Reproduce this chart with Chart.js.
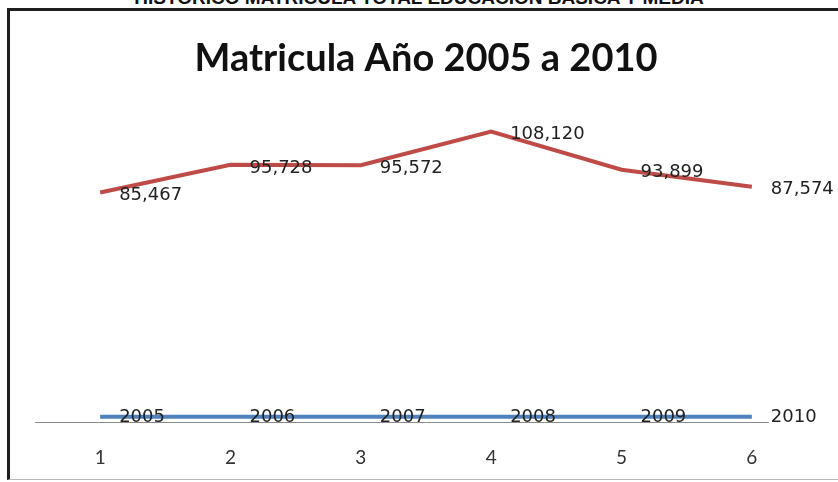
<!DOCTYPE html>
<html>
<head>
<meta charset="utf-8">
<script src="https://cdn.jsdelivr.net/npm/chart.js@4/dist/chart.umd.min.js"></script>
<style>
  html, body { margin: 0; padding: 0; background: #fff; width: 838px; height: 482px; overflow: hidden; }
  #header { position: absolute; left: 0; width: 838px; top: -12px; text-align: center; font: bold 19px "Liberation Sans", Arial, sans-serif; line-height: 19px; color: #111; white-space: nowrap; }
  #frame { position: absolute; left: 7px; top: 8px; width: 900px; height: 468px; border-left: 3px solid #1e1e1e; border-top: 3px solid #1e1e1e; border-bottom: 1px solid #b8b8b8; }
  #wrap { position: absolute; left: 0; top: 0; width: 838px; height: 508px; }
</style>
</head>
<body>
<div id="header">HISTORICO MATRICULA TOTAL EDUCACION BASICA Y MEDIA</div>
<div id="frame"></div>
<div id="wrap"><canvas id="c" width="838" height="508"></canvas></div>
<script>
const chartTitle = 'Matricula Año 2005 a 2010';
const categories = ['1', '2', '3', '4', '5', '6'];
const years = [2005, 2006, 2007, 2008, 2009, 2010];
const enrollment = [85467, 95728, 95572, 108120, 93899, 87574];
const enrollmentLabels = ['85,467', '95,728', '95,572', '108,120', '93,899', '87,574'];
const yearLabels = ['2005', '2006', '2007', '2008', '2009', '2010'];

const labelPlugin = {
  id: 'pointLabels',
  afterDatasetsDraw(chart) {
    const ctx = chart.ctx;
    ctx.save();
    ctx.font = '18px "DejaVu Sans", Verdana, sans-serif';
    ctx.textBaseline = 'middle';
    ctx.textAlign = 'left';
    chart.data.datasets.forEach((ds, di) => {
      const meta = chart.getDatasetMeta(di);
      meta.data.forEach((pt, i) => {
        const txt = ds.pointLabels[i];
        const x = pt.x + 19;
        const y = pt.y + ds.labelDy;
        if (ds.labelBgLast && i === meta.data.length - 1) {
          const w = ctx.measureText(txt).width;
          ctx.fillStyle = '#ffffff';
          ctx.fillRect(x - 2, y - 10, w + 30, 20);
        }
        ctx.fillStyle = '#222222';
        ctx.fillText(txt, x, y);
      });
    });
    ctx.restore();
  }
};

new Chart(document.getElementById('c'), {
  type: 'line',
  data: {
    labels: categories,
    datasets: [
      {
        data: enrollment,
        pointLabels: enrollmentLabels,
        labelDy: 3,
        borderColor: '#bf4b48',
        borderWidth: 4,
        pointRadius: 0,
        tension: 0,
        fill: false
      },
      {
        data: years,
        pointLabels: yearLabels,
        labelDy: 1,
        labelBgLast: true,
        borderColor: '#4f81bd',
        borderWidth: 4,
        pointRadius: 0,
        tension: 0,
        fill: false
      }
    ]
  },
  options: {
    responsive: false,
    animation: false,
    layout: { padding: { left: 35, right: 21, top: 0, bottom: 15 } },
    plugins: {
      legend: { display: false },
      tooltip: { enabled: false },
      title: {
        display: true,
        text: chartTitle,
        color: '#111111',
        font: { family: 'Lato', weight: 'bold', size: 38 },
        padding: { top: 36, bottom: 18 }
      }
    },
    scales: {
      x: {
        offset: true,
        grid: { display: false, drawTicks: false },
        border: { display: true, color: '#8a8a8a', width: 1 },
        ticks: { color: '#333333', font: { family: 'Lato', size: 19 }, padding: 24 }
      },
      y: {
        display: false,
        min: 0,
        max: 120000
      }
    }
  },
  plugins: [labelPlugin]
});
</script>
</body>
</html>
